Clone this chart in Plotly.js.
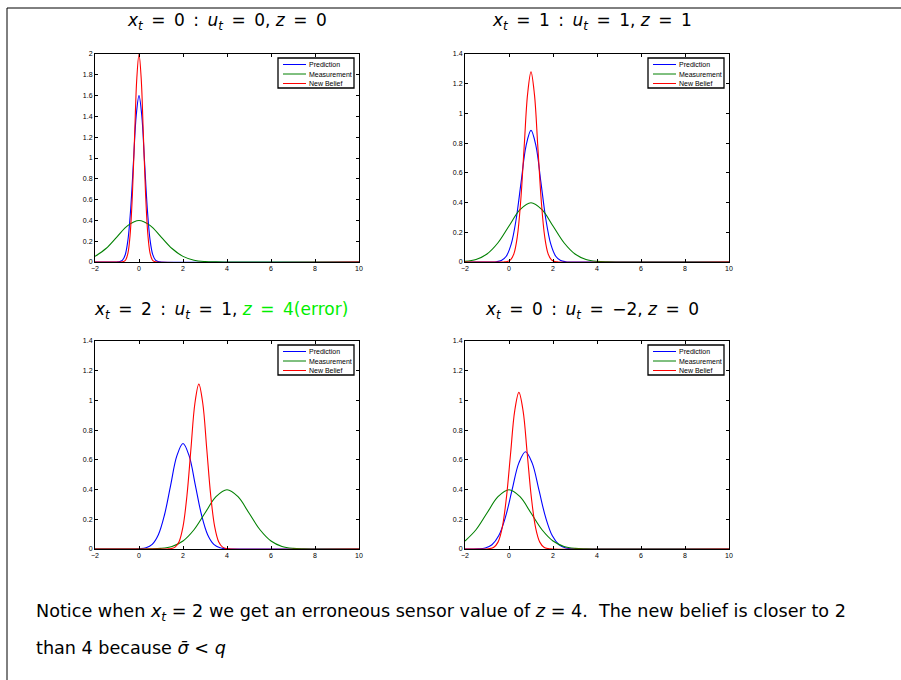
<!DOCTYPE html>
<html>
<head>
<meta charset="utf-8">
<script src="https://cdn.plot.ly/plotly-3.0.1.min.js"></script>
<style>html,body{margin:0;padding:0;background:#fff;}#chart{width:901px;height:680px;}</style>
</head>
<body>
<div id="chart"></div>
<script>
// ---- data ----
const xTicks = [-2, 0, 2, 4, 6, 8, 10];
const seriesNames = ["Prediction", "Measurement", "New Belief"];
const EQ = "\u2002=\u2002";
const panelTitles = [
  "<i>x</i><sub><i>t</i></sub>" + EQ + "0\u2002:\u2002<i>u</i><sub><i>t</i></sub>" + EQ + "0, <i>z</i>" + EQ + "0",
  "<i>x</i><sub><i>t</i></sub>" + EQ + "1\u2002:\u2002<i>u</i><sub><i>t</i></sub>" + EQ + "1, <i>z</i>" + EQ + "1",
  "<i>x</i><sub><i>t</i></sub>" + EQ + "2\u2002:\u2002<i>u</i><sub><i>t</i></sub>" + EQ + "1, <span style='color:#00ee00'><i>z</i>" + EQ + "4(error)</span>",
  "<i>x</i><sub><i>t</i></sub>" + EQ + "0\u2002:\u2002<i>u</i><sub><i>t</i></sub>" + EQ + "−2, <i>z</i>" + EQ + "0"
];
const yMax = [2, 1.4, 1.4, 1.4];
const noteLines = [
  "Notice when <i>x</i><sub><i>t</i></sub> = 2 we get an erroneous sensor value of <i>z</i> = 4.  The new belief is closer to 2",
  "than 4 because <i>σ̄</i> &lt; <i>q</i>"
];

// panel 1
const p1PredX = [-2, -1, -0.875, -0.75, -0.625, -0.5, -0.375, -0.25, -0.125, 0, 0.125, 0.25, 0.375, 0.5, 0.625, 0.75, 0.875, 1, 10];
const p1PredY = [0, 0.0005, 0.0035, 0.0178, 0.0702, 0.2165, 0.5195, 0.9704, 1.412, 1.6, 1.412, 0.9704, 0.5195, 0.2165, 0.0702, 0.0178, 0.0035, 0.0005, 0];
const p1MeasX = [-2, -1.5, -1, -0.5, 0, 0.5, 1, 1.5, 2, 2.5, 3, 3.5, 4, 10];
const p1MeasY = [0.054, 0.1295, 0.242, 0.352, 0.399, 0.352, 0.242, 0.1295, 0.054, 0.0175, 0.0044, 0.0009, 0.0001, 0];
const p1BelX = [-2, -0.8, -0.7, -0.6, -0.5, -0.4, -0.3, -0.2, -0.1, 0, 0.1, 0.2, 0.3, 0.4, 0.5, 0.6, 0.7, 0.8, 10];
const p1BelY = [0, 0.0006, 0.0044, 0.0222, 0.0878, 0.2706, 0.6494, 1.213, 1.765, 2.0, 1.765, 1.213, 0.6494, 0.2706, 0.0878, 0.0222, 0.0044, 0.0006, 0];

// panel 2
const p2PredX = [-2, -0.8, -0.575, -0.35, -0.125, 0.1, 0.325, 0.55, 0.775, 1, 1.225, 1.45, 1.675, 1.9, 2.125, 2.35, 2.575, 2.8, 10];
const p2PredY = [0, 0.0003, 0.0019, 0.0098, 0.0389, 0.1199, 0.2877, 0.5374, 0.7819, 0.886, 0.7819, 0.5374, 0.2877, 0.1199, 0.0389, 0.0098, 0.0019, 0.0003, 0];
const p2MeasX = [-2, -1.5, -1, -0.5, 0, 0.5, 1, 1.5, 2, 2.5, 3, 3.5, 4, 4.5, 5, 10];
const p2MeasY = [0.0044, 0.0175, 0.054, 0.1295, 0.242, 0.352, 0.399, 0.352, 0.242, 0.1295, 0.054, 0.0175, 0.0044, 0.0009, 0.0001, 0];
const p2BelX = [-2, -0.24, -0.085, 0.07, 0.225, 0.38, 0.535, 0.69, 0.845, 1, 1.155, 1.31, 1.465, 1.62, 1.775, 1.93, 2.085, 2.24, 10];
const p2BelY = [0, 0.0004, 0.0028, 0.0142, 0.0562, 0.1732, 0.4156, 0.7763, 1.1296, 1.28, 1.1296, 0.7763, 0.4156, 0.1732, 0.0562, 0.0142, 0.0028, 0.0004, 0];

// panel 3
const p3PredX = [-2, -0.24, 0.04, 0.32, 0.6, 0.88, 1.16, 1.44, 1.72, 2, 2.28, 2.56, 2.84, 3.12, 3.4, 3.68, 3.96, 4.24, 10];
const p3PredY = [0, 0.0002, 0.0016, 0.0079, 0.0312, 0.0961, 0.2305, 0.4306, 0.6266, 0.71, 0.6266, 0.4306, 0.2305, 0.0961, 0.0312, 0.0079, 0.0016, 0.0002, 0];
const p3MeasX = [-2, 0, 0.5, 1, 1.5, 2, 2.5, 3, 3.5, 4, 4.5, 5, 5.5, 6, 6.5, 7, 7.5, 8, 10];
const p3MeasY = [0, 0.0001, 0.0009, 0.0044, 0.0175, 0.054, 0.1295, 0.242, 0.352, 0.399, 0.352, 0.242, 0.1295, 0.054, 0.0175, 0.0044, 0.0009, 0.0001, 0];
const p3BelX = [-2, 1.28, 1.46, 1.64, 1.82, 2.0, 2.18, 2.36, 2.54, 2.72, 2.9, 3.08, 3.26, 3.44, 3.62, 3.8, 3.98, 4.16, 10];
const p3BelY = [0, 0.0003, 0.0024, 0.0123, 0.0487, 0.1502, 0.3604, 0.6732, 0.9796, 1.11, 0.9796, 0.6732, 0.3604, 0.1502, 0.0487, 0.0123, 0.0024, 0.0003, 0];

// panel 4
const p4PredX = [-2, -1.69, -1.385, -1.08, -0.775, -0.47, -0.165, 0.14, 0.445, 0.75, 1.055, 1.36, 1.665, 1.97, 2.275, 2.58, 2.885, 3.19, 10];
const p4PredY = [0, 0.0002, 0.0014, 0.0073, 0.0288, 0.0886, 0.2127, 0.3973, 0.578, 0.655, 0.578, 0.3973, 0.2127, 0.0886, 0.0288, 0.0073, 0.0014, 0.0002, 0];
const p4MeasX = [-2, -1.5, -1, -0.5, 0, 0.5, 1, 1.5, 2, 2.5, 3, 3.5, 4, 10];
const p4MeasY = [0.054, 0.1295, 0.242, 0.352, 0.399, 0.352, 0.242, 0.1295, 0.054, 0.0175, 0.0044, 0.0009, 0.0001, 0];
const p4BelX = [-2, -1.07, -0.88, -0.69, -0.5, -0.31, -0.12, 0.07, 0.26, 0.45, 0.64, 0.83, 1.02, 1.21, 1.4, 1.59, 1.78, 1.97, 10];
const p4BelY = [0, 0.0003, 0.0023, 0.0117, 0.0463, 0.1426, 0.3422, 0.6393, 0.9302, 1.054, 0.9302, 0.6393, 0.3422, 0.1426, 0.0463, 0.0117, 0.0023, 0.0003, 0];

// ---- build chart ----
const W = 901, H = 680;
const colors = ["#0000ff", "#008000", "#ff0000"];
const panels = [
  [[p1PredX, p1PredY], [p1MeasX, p1MeasY], [p1BelX, p1BelY]],
  [[p2PredX, p2PredY], [p2MeasX, p2MeasY], [p2BelX, p2BelY]],
  [[p3PredX, p3PredY], [p3MeasX, p3MeasY], [p3BelX, p3BelY]],
  [[p4PredX, p4PredY], [p4MeasX, p4MeasY], [p4BelX, p4BelY]]
];
// plot boxes in pixels: [left, right, top, bottom]
const boxes = [[95, 359, 54, 262], [465, 729, 54, 262], [95, 359, 341, 549], [465, 729, 341, 549]];
const titleY = [21, 21, 311, 311];
const titleX = [227, 592, 221, 592];
const px = v => v / W, py = v => 1 - v / H;

const traces = [];
const layout = {
  width: W, height: H,
  margin: {l: 0, r: 0, t: 0, b: 0},
  paper_bgcolor: "#fff", plot_bgcolor: "#fff",
  showlegend: false,
  font: {family: "DejaVu Sans, sans-serif", color: "#000", size: 12},
  shapes: [], annotations: []
};

panels.forEach((curves, i) => {
  const n = i + 1;
  const xa = "x" + (n === 1 ? "" : n), ya = "y" + (n === 1 ? "" : n);
  curves.forEach((c, k) => {
    traces.push({
      type: "scatter", mode: "lines", x: c[0], y: c[1], name: seriesNames[k],
      xaxis: xa, yaxis: ya,
      line: {color: colors[k], width: 1.1, shape: "spline", smoothing: 1},
      hoverinfo: "skip"
    });
  });
  const b = boxes[i];
  const axCommon = {
    showgrid: false, zeroline: false, showline: true, linecolor: "#000", linewidth: 1,
    mirror: "ticks", ticks: "inside", ticklen: 3, tickcolor: "#000", tickwidth: 1,
    tickfont: {size: 7, color: "#000", family: "Liberation Sans, Arial, sans-serif"}
  };
  layout["xaxis" + (n === 1 ? "" : n)] = Object.assign({}, axCommon, {
    domain: [px(b[0]), px(b[1])], range: [-2, 10], tickvals: xTicks, anchor: ya, ticklabelstandoff: 0
  });
  layout["yaxis" + (n === 1 ? "" : n)] = Object.assign({}, axCommon, {
    domain: [py(b[3]), py(b[2])], range: [0, yMax[i]], dtick: 0.2, tick0: 0, anchor: xa
  });
  // panel title
  layout.annotations.push({
    xref: "paper", yref: "paper", x: px(titleX[i]), y: py(titleY[i]),
    xanchor: "center", yanchor: "middle", showarrow: false,
    text: panelTitles[i], font: {size: 17, color: "#000", family: "DejaVu Sans, sans-serif"}
  });
  // legend box
  const lx0 = b[1] - 81, lx1 = b[1] - 5, ly0 = b[2] + 4, ly1 = b[2] + 34;
  layout.shapes.push({type: "rect", xref: "paper", yref: "paper", x0: px(lx0), x1: px(lx1), y0: py(ly0), y1: py(ly1),
    line: {color: "#000", width: 1.3}, fillcolor: "#fff", layer: "above"});
  seriesNames.forEach((nm, k) => {
    const ry = ly0 + 6.5 + k * 9.5;
    layout.shapes.push({type: "line", xref: "paper", yref: "paper", x0: px(lx0 + 5), x1: px(lx0 + 28), y0: py(ry), y1: py(ry),
      line: {color: colors[k], width: 1}, layer: "above"});
    layout.annotations.push({xref: "paper", yref: "paper", x: px(lx0 + 29), y: py(ry), xanchor: "left", yanchor: "middle",
      showarrow: false, text: nm, font: {size: 7, color: "#000", family: "Liberation Sans, Arial, sans-serif"}});
  });
});

// frame
layout.shapes.push({type: "line", xref: "paper", yref: "paper", x0: px(7), x1: px(901), y0: py(8), y1: py(8), line: {color: "#000", width: 1}});
layout.shapes.push({type: "line", xref: "paper", yref: "paper", x0: px(7), x1: px(7), y0: py(8), y1: py(680), line: {color: "#000", width: 1}});

// note text
noteLines.forEach((t, k) => {
  layout.annotations.push({xref: "paper", yref: "paper", x: px(34), y: py(612 + k * 36), xanchor: "left", yanchor: "middle",
    showarrow: false, text: t, font: {size: 17.6, color: "#000", family: "DejaVu Sans, sans-serif"}});
});

Plotly.newPlot("chart", traces, layout, {displayModeBar: false});
</script>
</body>
</html>
